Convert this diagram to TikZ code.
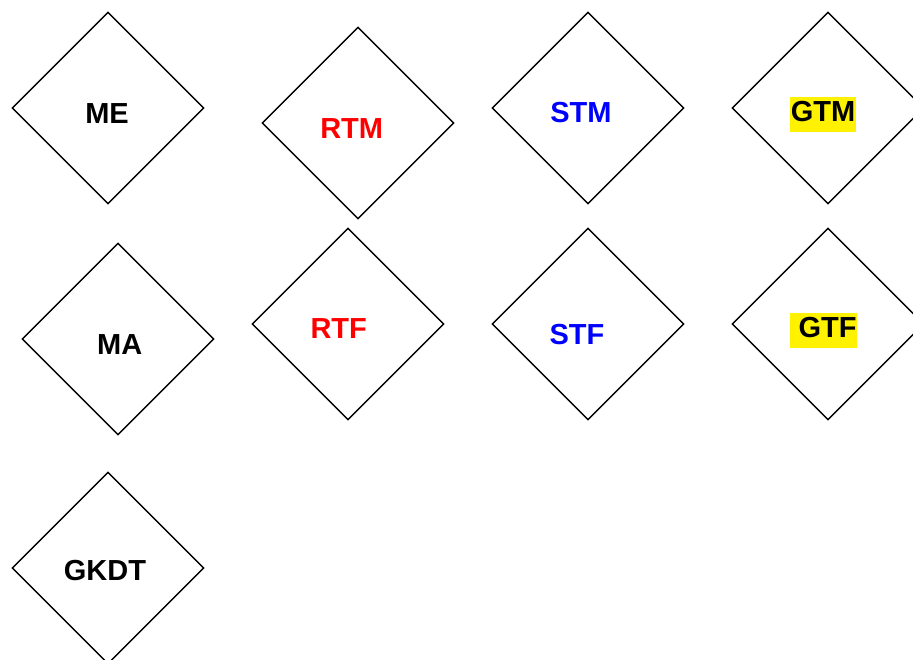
\documentclass[tikz,border=0pt]{standalone}
\usepackage{fontspec}
\setmainfont{Liberation Sans}
\usetikzlibrary{shapes.geometric}
\tikzset{
  diam/.style={draw,diamond,aspect=1,inner sep=0pt,minimum width=192pt,minimum height=192pt,line width=1.4pt},
  lbl/.style={anchor=base,inner sep=0pt,font=\fontsize{29}{34}\selectfont\bfseries},
  hl/.style={lbl,fill=yellow,inner xsep=0.8pt,text height=25pt,text depth=10pt}
}
\begin{document}
\begin{tikzpicture}[x=1pt,y=-1pt]
      \useasboundingbox (0,0) rectangle (913,659);
      \node[diam] (me) at (108,108) {};
      \node[diam] (rtm) at (358,123) {};
      \node[diam] (stm) at (588,108) {};
      \node[diam] (gtm) at (828,108) {};
      \node[diam] (ma) at (118,339) {};
      \node[diam] (rtf) at (348,324) {};
      \node[diam] (stf) at (588,324) {};
      \node[diam] (gtf) at (828,324) {};
      \node[diam] (gkdt) at (108,568) {};
      \node[lbl] (me-t) at (107,123.5) {ME};
      \node[lbl,red] (rtm-t) at (351.7,138) {RTM};
      \node[lbl,blue] (stm-t) at (581,122.5) {STM};
      \node[hl] (gtm-t) at (823,121.5) {GTM};
      \node[lbl] (ma-t) at (119.7,354) {MA};
      \node[lbl,red] (rtf-t) at (338.7,338) {RTF};
      \node[lbl,blue] (stf-t) at (577,344.5) {STF};
      \node[hl] (gtf-t) at (823.5,337.5) {\ GTF};
      \node[lbl] (gkdt-t) at (105,580) {GKDT};
    \end{tikzpicture}
\end{document}
